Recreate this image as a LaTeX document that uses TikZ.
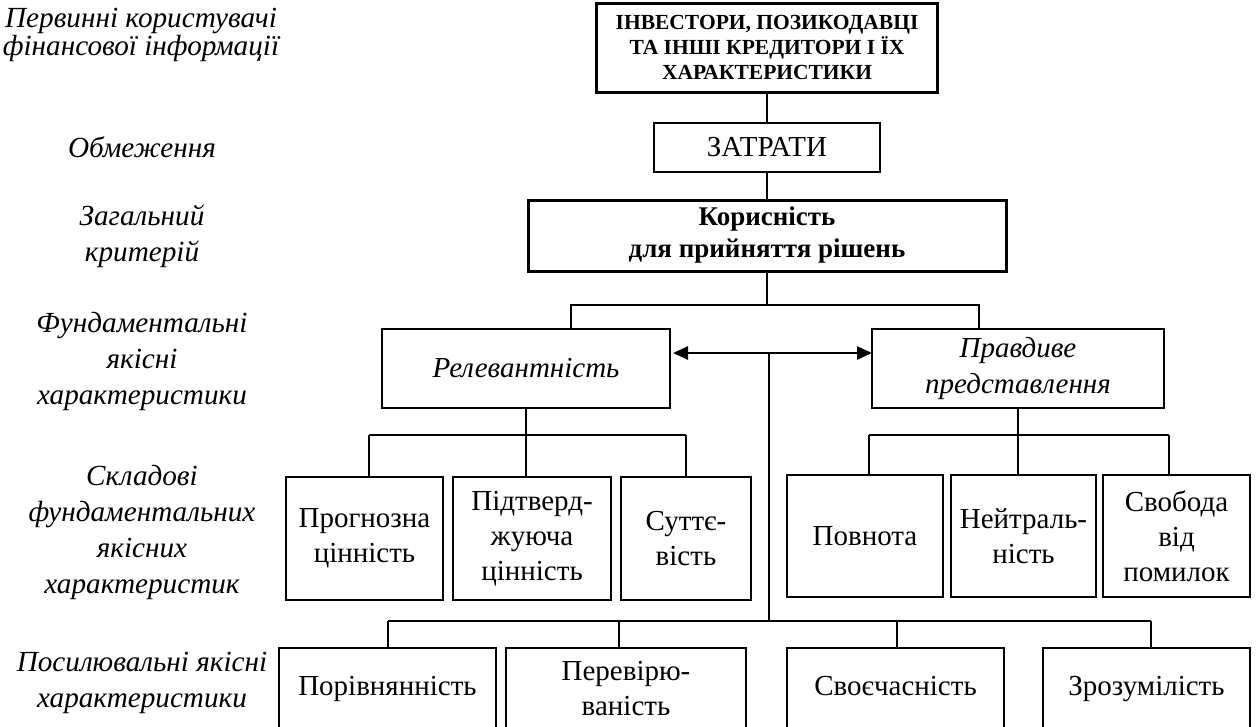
\documentclass[tikz,border=0pt]{standalone}
\usepackage{fontspec}
\setmainfont{Liberation Serif}
\usetikzlibrary{arrows.meta}
\begin{document}
\begin{tikzpicture}[x=1pt,y=-1pt,
  box/.style={draw, line width=1.6pt, inner sep=0pt, outer sep=0pt, align=center, font=\fontsize{29}{35}\selectfont},
  bbox/.style={box, line width=3pt},
  lab/.style={align=center, inner sep=0pt, font=\fontsize{29.2}{36}\selectfont\itshape},
  itbox/.style={box, font=\fontsize{29}{36}\selectfont\itshape},
  conn/.style={line width=1.6pt},
  dbl/.style={line width=2.6pt, {Triangle[length=15pt,width=13pt]}-{Triangle[length=15pt,width=13pt]}}]
\useasboundingbox (0,0) rectangle (1259,726);
\clip (0,0) rectangle (1259,726);

% left labels
\node[lab, font=\fontsize{29.2}{28}\selectfont\itshape] (l1) at (141,35) {Первинні користувачі\\фінансової інформації};
\node[lab] (l2) at (142,147) {Обмеження};
\node[lab] (l3) at (142,236) {Загальний\\критерій};
\node[lab] (l4) at (142,361) {Фундаментальні\\якісні\\характеристики};
\node[lab] (l5) at (142,532) {Складові\\фундаментальних\\якісних\\характеристик};
\node[lab] (l6) at (142,683) {Посилювальні якісні\\характеристики};

% main boxes
\node[bbox, minimum width=341pt, minimum height=89pt, font=\fontsize{21.5}{25}\selectfont\bfseries] (top) at (767,47.5)
  {ІНВЕСТОРИ, ПОЗИКОДАВЦІ\\ТА ІНШІ КРЕДИТОРИ І ЇХ\\ХАРАКТЕРИСТИКИ};
\node[box, minimum width=226pt, minimum height=49pt] (zat) at (767,147.5) {ЗАТРАТИ};
\node[bbox, minimum width=478pt, minimum height=71pt, font=\fontsize{27}{32}\selectfont\bfseries] (kor) at (767,235.5)
  {Корисність\\для прийняття рішень};
\node[itbox, minimum width=288pt, minimum height=79pt] (rel) at (526,368.5) {\raisebox{-4pt}{Релевантність}};
\node[itbox, minimum width=292pt, minimum height=79pt] (prav) at (1018,368.5)
  {\raisebox{-4pt}{\begin{tabular}{@{}c@{}}Правдиве\\представлення\end{tabular}}};

% components
\node[box, minimum width=157pt, minimum height=123pt] (prog) at (364.5,538.5) {Прогнозна\\цінність};
\node[box, minimum width=158pt, minimum height=123pt] (pidt) at (532,538.5) {Підтверд-\\жуюча\\цінність};
\node[box, minimum width=130pt, minimum height=123pt] (sutt) at (686,538.5) {Суттє-\\вість};
\node[box, minimum width=156pt, minimum height=122pt] (povn) at (865,536) {Повнота};
\node[box, minimum width=145pt, minimum height=122pt] (neyt) at (1023.5,536) {Нейтраль-\\ність};
\node[box, minimum width=147pt, minimum height=122pt] (svob) at (1176.5,536) {Свобода\\від\\помилок};

% enhancing
\node[box, minimum width=217pt, minimum height=82pt] (por) at (387.5,689) {Порівнянність};
\node[box, minimum width=240pt, minimum height=82pt] (per) at (626,689) {Перевірю-\\ваність};
\node[box, minimum width=217pt, minimum height=82pt] (svo) at (895.5,689) {Своєчасність\vphantom{у}};
\node[box, minimum width=207pt, minimum height=82pt] (zro) at (1146.5,689) {Зрозумілість};

% junction coordinates
\coordinate (j1) at (767,305);
\coordinate (jl) at (571,305);
\coordinate (jr) at (979,305);
\coordinate (ja) at (769,353);
\coordinate (jb) at (769,621);
\coordinate (rl) at (369,435);
\coordinate (rj) at (526,435);
\coordinate (rr) at (686,435);
\coordinate (pl) at (869,435);
\coordinate (pj) at (1018,435);
\coordinate (pr) at (1169,435);
\coordinate (b1) at (388,621);
\coordinate (b2) at (619,621);
\coordinate (b3) at (897,621);
\coordinate (b4) at (1151,621);

% connectors
\draw[conn] (top.south) -- (zat.north);
\draw[conn] (zat.south) -- (kor.north);
\draw[conn] (kor.south) -- (j1);
\draw[conn] (rel.north -| jl) -- (jl) -- (jr) -- (prav.north -| jr);
\draw[dbl, shorten <=3pt] (rel.east |- ja) -- (prav.west |- ja);
\draw[conn] (ja) -- (jb);

\draw[conn] (rel.south) -- (rj);
\draw[conn] (rl) -- (rr);
\draw[conn] (rl) -- (prog.north -| rl);
\draw[conn] (rj) -- (pidt.north -| rj);
\draw[conn] (rr) -- (sutt.north -| rr);

\draw[conn] (prav.south) -- (pj);
\draw[conn] (pl) -- (pr);
\draw[conn] (pl) -- (povn.north -| pl);
\draw[conn] (pj) -- (neyt.north -| pj);
\draw[conn] (pr) -- (svob.north -| pr);

\draw[conn] (b1) -- (b4);
\draw[conn] (b1) -- (por.north -| b1);
\draw[conn] (b2) -- (per.north -| b2);
\draw[conn] (b3) -- (svo.north -| b3);
\draw[conn] (b4) -- (zro.north -| b4);
\end{tikzpicture}
\end{document}
